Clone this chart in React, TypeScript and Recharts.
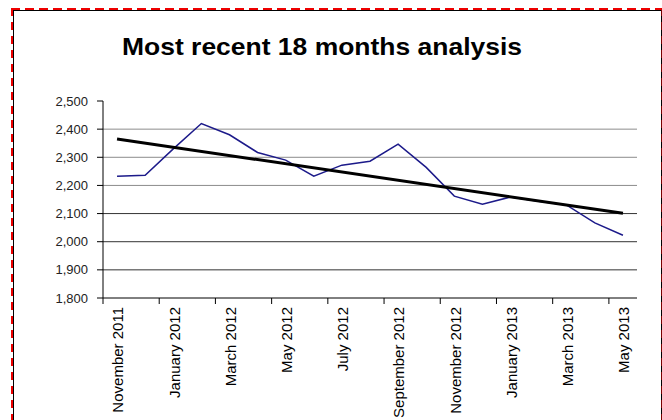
import { LineChart, Line, XAxis, YAxis, ReferenceLine } from "recharts";

const MONTHS = [
  "November 2011",
  "December 2011",
  "January 2012",
  "February 2012",
  "March 2012",
  "April 2012",
  "May 2012",
  "June 2012",
  "July 2012",
  "August 2012",
  "September 2012",
  "October 2012",
  "November 2012",
  "December 2012",
  "January 2013",
  "February 2013",
  "March 2013",
  "April 2013",
  "May 2013",
];

const VALUES = [
  2233, 2236, 2330, 2420, 2380, 2317, 2290, 2233, 2272, 2286, 2347, 2264, 2162,
  2133, 2159, 2144, 2130, 2067, 2023,
];

// trend line at its two ends
const TREND_START = 2365;
const TREND_END = 2101;

const Y_TICKS = [1800, 1900, 2000, 2100, 2200, 2300, 2400, 2500];
const LIGHT_GRID = [2400, 2300, 2200];
const DARK_GRID = [2100, 2000, 1900];

const W = 662;
const H = 420;
const LEFT = 103;
const RIGHT = 25;
const BAND = (W - LEFT - RIGHT) / MONTHS.length;

const data = MONTHS.map((m, i) => ({
  month: m,
  value: VALUES[i],
  trend: i === 0 ? TREND_START : i === MONTHS.length - 1 ? TREND_END : null,
}));

const MonthTick = (props: any) => {
  const { x, y, payload } = props;
  const bx = x - BAND / 2;
  return (
    <g>
      <line x1={bx} y1={y} x2={bx} y2={y + 6} stroke="#000" />
      <text
        x={x + 1}
        y={y + 9}
        transform={`rotate(-90, ${x + 1}, ${y + 9})`}
        textAnchor="end"
        dy="0.35em"
        fontSize={15}
        fontFamily="Liberation Sans, Arial, sans-serif"
        fill="#000"
      >
        {payload.value}
      </text>
    </g>
  );
};

export default function App() {
  return (
    <div
      style={{
        position: "fixed",
        left: 0,
        top: 0,
        width: W,
        height: H,
        background: "#fff",
        overflow: "hidden",
      }}
    >
      <LineChart
        width={W}
        height={H}
        data={data}
        margin={{ top: 101, right: RIGHT, left: 0, bottom: 0 }}
        style={{ fontFamily: "Liberation Sans, Arial, sans-serif" }}
      >
        {LIGHT_GRID.map((v) => (
          <ReferenceLine key={v} y={v} stroke="#8c8c8c" strokeWidth={1} />
        ))}
        {DARK_GRID.map((v) => (
          <ReferenceLine key={v} y={v} stroke="#333" strokeWidth={1} />
        ))}
        <XAxis
          dataKey="month"
          scale="band"
          height={122}
          interval={1}
          tick={<MonthTick />}
          tickLine={false}
          tickSize={0}
          tickMargin={0}
          axisLine={{ stroke: "#000" }}
        />
        <YAxis
          type="number"
          domain={[1800, 2500]}
          ticks={Y_TICKS}
          width={LEFT}
          tickSize={6}
          tickMargin={9}
          tickLine={{ stroke: "#000" }}
          axisLine={{ stroke: "#000" }}
          tick={{ fontSize: 13, fill: "#222" }}
          tickFormatter={(v: number) => v.toLocaleString("en-US")}
        />
        <Line
          dataKey="value"
          stroke="#1c1a8a"
          strokeWidth={1.5}
          dot={false}
          isAnimationActive={false}
        />
        <Line
          dataKey="trend"
          stroke="#000"
          strokeWidth={3}
          dot={false}
          connectNulls
          isAnimationActive={false}
        />
      </LineChart>
      <svg
        width={W}
        height={H}
        style={{ position: "absolute", left: 0, top: 0, pointerEvents: "none" }}
      >
        <line x1={11} y1={9} x2={W} y2={9} stroke="#e00" strokeWidth={2} strokeDasharray="9 5" />
        <line x1={12} y1={8} x2={12} y2={H} stroke="#e00" strokeWidth={2} strokeDasharray="8 6" />
        <line x1={13} y1={10.5} x2={W - 1} y2={10.5} stroke="#000" strokeWidth={1} />
        <line x1={13.5} y1={10} x2={13.5} y2={H} stroke="#000" strokeWidth={1} />
        <line x1={661.5} y1={10} x2={661.5} y2={H} stroke="#000" strokeWidth={1} />
        <line x1={661.5} y1={8} x2={661.5} y2={H} stroke="#c00" strokeWidth={1} strokeDasharray="8 6" opacity={0.6} />
        <text
          x={122}
          y={55}
          fontFamily="Liberation Sans, Arial, sans-serif"
          fontWeight="bold"
          fontSize={24}
          textLength={400}
          lengthAdjust="spacingAndGlyphs"
          fill="#000"
        >
          Most recent 18 months analysis
        </text>
      </svg>
    </div>
  );
}
